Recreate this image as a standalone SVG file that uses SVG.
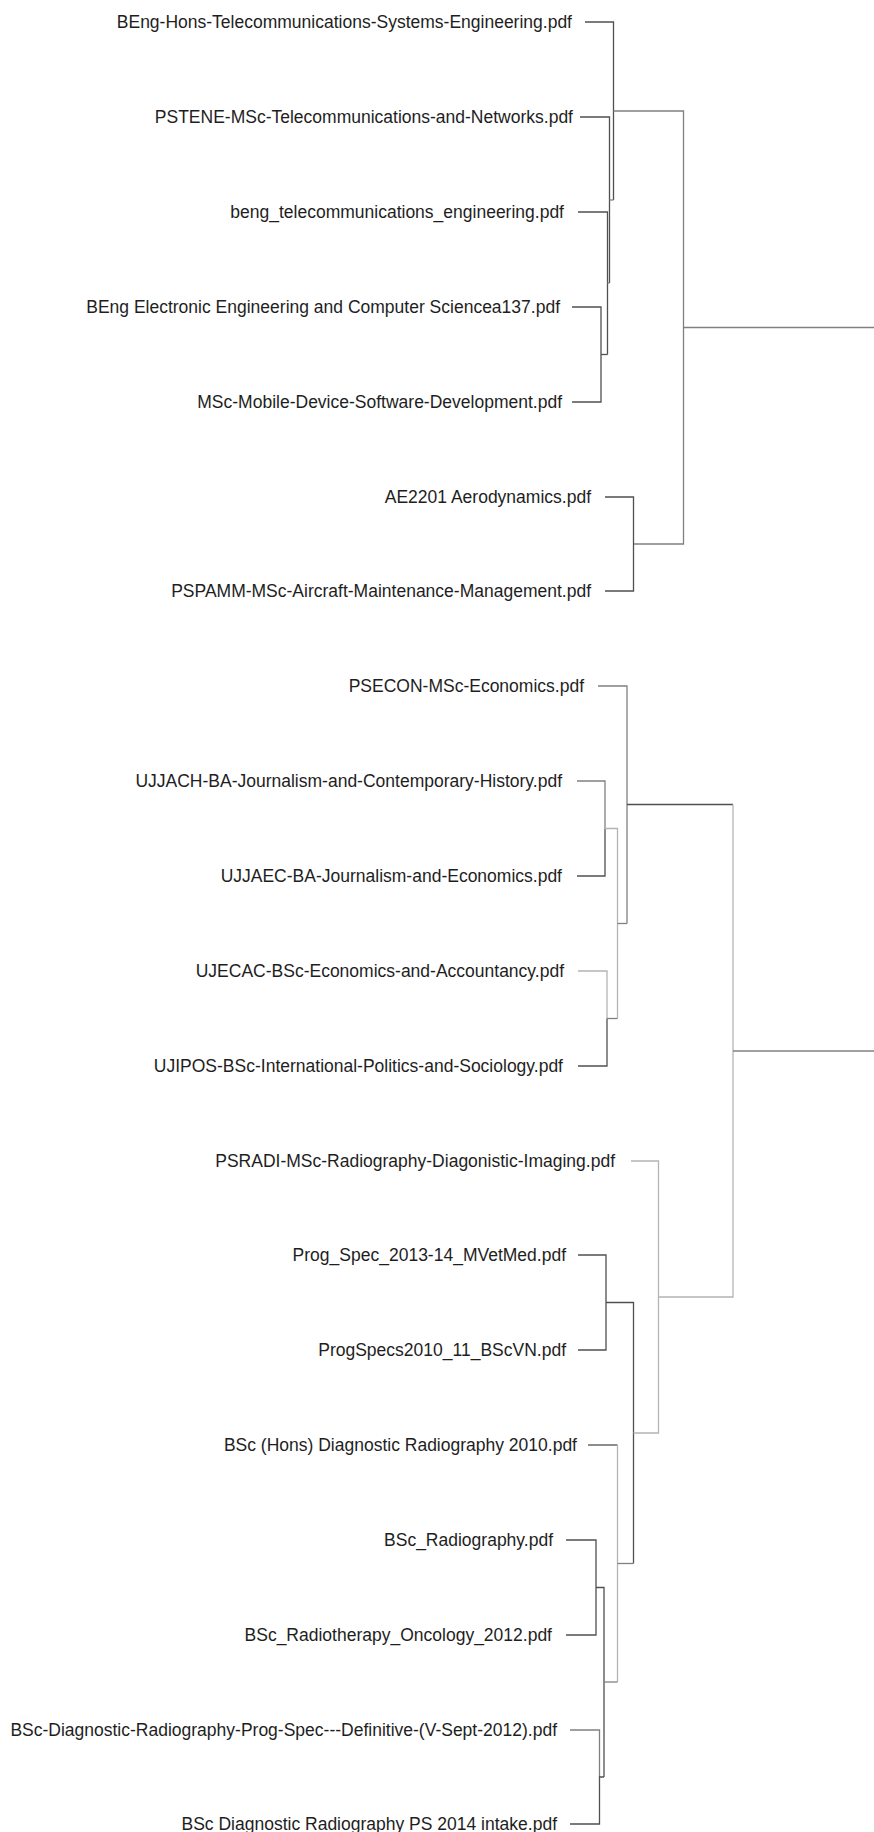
<svg xmlns="http://www.w3.org/2000/svg" width="874" height="1832" viewBox="0 0 874 1832">
<style>
text{font-family:"Liberation Sans",Arial,sans-serif;font-size:17.5px;fill:#1e1e1e;text-anchor:end}
path{fill:none;stroke-width:1.3}
.d{stroke:#505050}
.m{stroke:#808080}
.l{stroke:#b4b4b4}
</style>
<rect width="874" height="1832" fill="#fff"/>
<g id="connectors">
<path class="d" d="M585 22H613.5V200"/>
<path class="d" d="M580 117H609.5V283"/>
<path class="m" d="M609.5 200H613.5"/>
<path class="d" d="M578 212H607.5V354.5"/>
<path class="m" d="M607.5 283H609.5"/>
<path class="d" d="M572 307H601V402H572"/>
<path class="d" d="M601 354.5H607.5"/>
<path class="m" d="M613.5 111H683.5V544H633.5"/>
<path class="d" d="M605 497H633.5V591H605"/>
<path class="m" d="M683.5 327.5H874"/>
<path class="m" d="M598 686H627V923.5"/>
<path class="d" d="M627 804.5H733"/>
<path class="m" d="M577 781H605V828.5"/>
<path class="d" d="M577 876H605V828.5"/>
<path class="l" d="M605 828.5H617.5V1018.5"/>
<path class="l" d="M578 971H607V1018.5"/>
<path class="d" d="M578 1066H607V1018.5"/>
<path class="m" d="M607 1018.5H617.5"/>
<path class="m" d="M617.5 923.5H627"/>
<path class="l" d="M631 1161H658.5V1297H733V804.5"/>
<path class="m" d="M733 1051H874"/>
<path class="d" d="M578 1255H606V1350H578"/>
<path class="d" d="M606 1302.5H633.5V1563.5"/>
<path class="l" d="M633.5 1433H658.5V1297"/>
<path class="d" d="M588 1445H617.5"/>
<path class="l" d="M617.5 1445V1682"/>
<path class="m" d="M617.5 1563.5H633.5"/>
<path class="d" d="M566 1540H596V1635H566"/>
<path class="d" d="M596 1587.5H604V1777"/>
<path class="m" d="M604 1682H617.5"/>
<path class="m" d="M570 1730H599.5V1777"/>
<path class="d" d="M570 1824H599.5V1777H604"/>
</g>
<g id="leaf-1"><text x="572" y="27.5">BEng-Hons-Telecommunications-Systems-Engineering.pdf</text></g>
<g id="leaf-2"><text x="573" y="122.5">PSTENE-MSc-Telecommunications-and-Networks.pdf</text></g>
<g id="leaf-3"><text x="564" y="217.5">beng_telecommunications_engineering.pdf</text></g>
<g id="leaf-4"><text x="560" y="312.5">BEng Electronic Engineering and Computer Sciencea137.pdf</text></g>
<g id="leaf-5"><text x="562" y="407.5">MSc-Mobile-Device-Software-Development.pdf</text></g>
<g id="leaf-6"><text x="591" y="502.5">AE2201 Aerodynamics.pdf</text></g>
<g id="leaf-7"><text x="591" y="596.5">PSPAMM-MSc-Aircraft-Maintenance-Management.pdf</text></g>
<g id="leaf-8"><text x="584" y="691.5">PSECON-MSc-Economics.pdf</text></g>
<g id="leaf-9"><text x="562" y="786.5">UJJACH-BA-Journalism-and-Contemporary-History.pdf</text></g>
<g id="leaf-10"><text x="562" y="881.5">UJJAEC-BA-Journalism-and-Economics.pdf</text></g>
<g id="leaf-11"><text x="564" y="976.5">UJECAC-BSc-Economics-and-Accountancy.pdf</text></g>
<g id="leaf-12"><text x="563" y="1071.5">UJIPOS-BSc-International-Politics-and-Sociology.pdf</text></g>
<g id="leaf-13"><text x="615" y="1166.5">PSRADI-MSc-Radiography-Diagonistic-Imaging.pdf</text></g>
<g id="leaf-14"><text x="566" y="1260.5">Prog_Spec_2013-14_MVetMed.pdf</text></g>
<g id="leaf-15"><text x="566" y="1355.5">ProgSpecs2010_11_BScVN.pdf</text></g>
<g id="leaf-16"><text x="577" y="1450.5">BSc (Hons) Diagnostic Radiography 2010.pdf</text></g>
<g id="leaf-17"><text x="553" y="1545.5">BSc_Radiography.pdf</text></g>
<g id="leaf-18"><text x="552" y="1640.5">BSc_Radiotherapy_Oncology_2012.pdf</text></g>
<g id="leaf-19"><text x="557" y="1735.5">BSc-Diagnostic-Radiography-Prog-Spec---Definitive-(V-Sept-2012).pdf</text></g>
<g id="leaf-20"><text x="557" y="1829.5">BSc Diagnostic Radiography PS 2014 intake.pdf</text></g>
</svg>
